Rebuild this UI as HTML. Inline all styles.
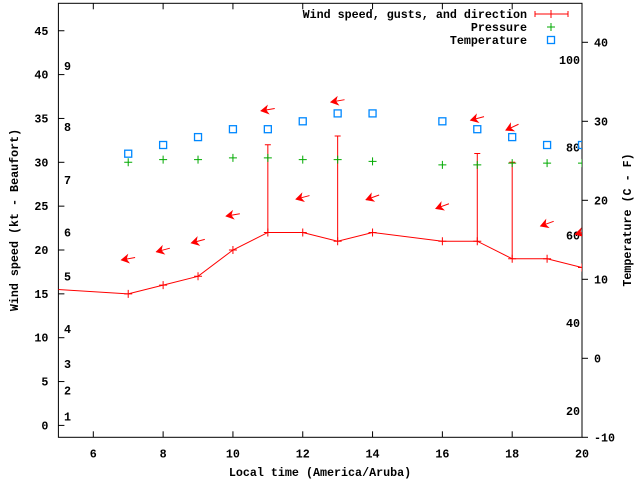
<!DOCTYPE html>
<html><head><meta charset="utf-8"><style>
body{margin:0;background:#fff}
svg text{font-family:"Liberation Mono",monospace;font-weight:bold;font-size:11.7px;fill:#000}
</style></head><body>
<svg width="640" height="480" viewBox="0 0 640 480">
<defs><clipPath id="clip"><rect x="58.4" y="3.3" width="523.6" height="434"/></clipPath></defs>
<g id="axes"></g>
<g id="plot" clip-path="url(#clip)"></g>
<g id="legend"></g>
</svg>
<script>
const hours=[7,8,9,10,11,12,13,14,16,17,18,19,20];
const windKt=[15,16,17,20,22,22,21,22,21,21,19,19,18];
const gustHours=[11,13,17,18];
const gustKt=[32,33,31,30];
const windDirDeg=[80,75,75,80,80,75,80,70,70,75,65,70,75];
const pressure=[30.0,30.3,30.3,30.5,30.5,30.3,30.3,30.1,29.7,29.7,29.9,29.9,29.9];
const tempC=[25.9,27,28,29,29,30,31,31,30,29,28,27,27];
const leadHour=[3];
const leadWind=[16];
const xTicks=[6,8,10,12,14,16,18,20];
const yTicks=[0,5,10,15,20,25,30,35,40,45];
const y2Ticks=[-10,0,10,20,30,40];
const beaufortKt=[1,4,7,11,17,22,28,34,41];
const beaufortLabels=["1","2","3","4","5","6","7","8","9"];
const fahrenheit=[20,40,60,80,100];

const NS="http://www.w3.org/2000/svg";
const L=58.4,R=582,T=3.3,B=437.3;
const xs=h=>L+(h-5)*(R-L)/15;
const ys=v=>425.4-v*8.77;
const y2s=c=>358.3-c*7.9;
function mk(parent,tag,attrs,text){const e=document.createElementNS(NS,tag);for(const k in attrs)e.setAttribute(k,attrs[k]);if(text!==undefined)e.textContent=text;document.getElementById(parent).appendChild(e);return e;}

let e=mk('axes','rect',{x:L,y:T,width:R-L,height:B-T,fill:'none',stroke:'#000','stroke-width':1});


yTicks.forEach(v=>{
  mk('axes','line',{x1:L,x2:L+6,y1:ys(v),y2:ys(v),stroke:'#000'});
  let t=mk('axes','text',{x:L-10,y:ys(v)+4,'text-anchor':'end'},String(v));
  
  
});
xTicks.forEach(h=>{
  mk('axes','line',{x1:xs(h),x2:xs(h),y1:B,y2:B-6,stroke:'#000'});
  mk('axes','line',{x1:xs(h),x2:xs(h),y1:T,y2:T+6,stroke:'#000'});
  let t=mk('axes','text',{x:xs(h),y:B+20,'text-anchor':'middle'},String(h));
  
  
});
y2Ticks.forEach(c=>{
  mk('axes','line',{x1:R,x2:R+6,y1:y2s(c),y2:y2s(c),stroke:'#000'});
  let t=mk('axes','text',{x:R+12,y:y2s(c)+4,'text-anchor':'start'},String(c));
  
  
});
beaufortKt.forEach((k,i)=>{
  let t=mk('axes','text',{x:64,y:ys(k)+4},beaufortLabels[i]);
  
  
});
fahrenheit.forEach(f=>{
  let t=mk('axes','text',{x:580,y:y2s((f-32)*5/9)+4,'text-anchor':'end'},String(f));
  
  
});
e=mk('axes','text',{x:320,y:476,'text-anchor':'middle'},'Local time (America/Aruba)');


e=mk('axes','text',{x:0,y:0,'text-anchor':'middle',transform:'translate(18,220) rotate(-90)'},'Wind speed (kt - Beaufort)');


e=mk('axes','text',{x:0,y:0,'text-anchor':'middle',transform:'translate(631,220) rotate(-90)'},'Temperature (C - F)');



const allH=leadHour.concat(hours), allW=leadWind.concat(windKt);
e=mk('plot','polyline',{points:allH.map((h,i)=>xs(h)+','+ys(allW[i])).join(' '),fill:'none',stroke:'#f00','stroke-width':1});


hours.forEach((h,i)=>{
  let g=mk('plot','path',{d:`M${xs(h)-4},${ys(windKt[i])}h8M${xs(h)},${ys(windKt[i])-4}v8`,stroke:'#f00',fill:'none'});
  
  
});
gustHours.forEach((h,i)=>{
  const w=windKt[hours.indexOf(h)];
  let g=mk('plot','path',{d:`M${xs(h)},${ys(w)}V${ys(gustKt[i])}M${xs(h)-3},${ys(gustKt[i])}h6`,stroke:'#f00',fill:'none'});
  
  
});
hours.forEach((h,i)=>{
  const gi=gustHours.indexOf(h);
  const top=Math.max(windKt[i],gi>=0?gustKt[gi]:0)+4;
  const cx=xs(h),cy=ys(top);
  const a=(windDirDeg[i]-90)*Math.PI/180;
  let g=mk('plot','g',{});
  
  
  const hx2=cx-7*Math.cos(a), hy2=cy-7*Math.sin(a), tx2=cx+7*Math.cos(a), ty2=cy+7*Math.sin(a);
  const ux=(tx2-hx2)/14,uy=(ty2-hy2)/14;
  const p=document.createElementNS(NS,'line');
  p.setAttribute('x1',tx2);p.setAttribute('y1',ty2);p.setAttribute('x2',hx2);p.setAttribute('y2',hy2);p.setAttribute('stroke','#f00');
  g.appendChild(p);
  const px=-uy,py=ux;
  const hd=document.createElementNS(NS,'polygon');
  hd.setAttribute('points',`${hx2},${hy2} ${hx2+ux*7+px*4},${hy2+uy*7+py*4} ${hx2+ux*5},${hy2+uy*5} ${hx2+ux*7-px*4},${hy2+uy*7-py*4}`);
  hd.setAttribute('fill','#f00');
  hd.setAttribute('stroke','#f00');
  hd.setAttribute('stroke-width','0.8');
  g.appendChild(hd);
});

hours.forEach((h,i)=>{
  let g=mk('plot','path',{d:`M${xs(h)-4},${ys(pressure[i])}h8M${xs(h)},${ys(pressure[i])-4}v8`,stroke:'#0a0',fill:'none'});
  
  
  let s=mk('plot','rect',{x:xs(h)-3.5,y:y2s(tempC[i])-3.5,width:7,height:7,fill:'none',stroke:'#08f','stroke-width':1.3});
  
  
});

[['Wind speed, gusts, and direction',14],['Pressure',27],['Temperature',40]].forEach(([t,y])=>{
  let x=mk('legend','text',{x:527,y:y+4,'text-anchor':'end'},t);
  
  
});
e=mk('legend','path',{d:'M535,14h33M535,11v6M568,11v6M551,10v8',stroke:'#f00',fill:'none'});


e=mk('legend','path',{d:'M547,27h8M551,23v8',stroke:'#0a0',fill:'none'});


e=mk('legend','rect',{x:547.5,y:36.5,width:7,height:7,fill:'none',stroke:'#08f','stroke-width':1.3});


</script>
</body></html>
